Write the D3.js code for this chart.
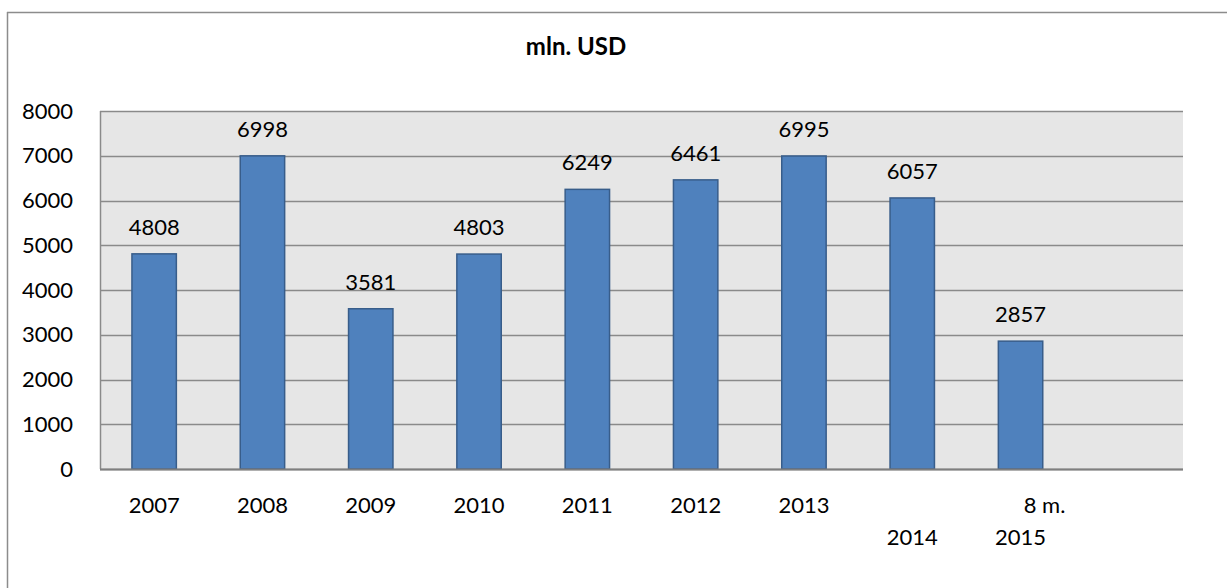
<!DOCTYPE html>
<html>
<head>
<meta charset="utf-8">
<script src="https://cdn.jsdelivr.net/npm/d3@7"></script>
<style>
  body { margin: 0; background: #fff; }
  svg { display: block; font-family: Lato, "Open Sans", sans-serif; }
</style>
</head>
<body>
<div id="chart-area"></div>
<script>
// data
var years = ['2007', '2008', '2009', '2010', '2011', '2012', '2013', '2014', '2015', ''];
var values = [4808, 6998, 3581, 4803, 6249, 6461, 6995, 6057, 2857];
// category labels: [first line, second line]
var labelLines = [['2007'], ['2008'], ['2009'], ['2010'], ['2011'], ['2012'], ['2013'], ['', '2014'], ['8 m.', '2015'], ['']];
var yTicks = [0, 1000, 2000, 3000, 4000, 5000, 6000, 7000, 8000];

var W = 1227, H = 588;
var margin = { top: 111, right: 44, bottom: 119, left: 100 };
var width = W - margin.left - margin.right;
var height = H - margin.top - margin.bottom;

var svg = d3.select('#chart-area')
    .append('svg')
        .attr('width', W)
        .attr('height', H);

// outer frame (top + left only visible)
svg.append('line').attr('x1', 7).attr('x2', W).attr('y1', 12.5).attr('y2', 12.5)
    .attr('stroke', '#8c8c8c').attr('stroke-width', 1.5);
svg.append('line').attr('x1', 7.5).attr('x2', 7.5).attr('y1', 12).attr('y2', H)
    .attr('stroke', '#8c8c8c').attr('stroke-width', 1.5);

// title
svg.append('text')
    .attr('x', 576)
    .attr('y', 55)
    .attr('text-anchor', 'middle')
    .attr('font-size', '24px')
    .attr('font-weight', 'bold')
    .text('mln. USD');

var g = svg.append('g')
    .attr('transform', 'translate(' + margin.left + ',' + margin.top + ')');

var x = d3.scaleBand()
    .domain(years.map(function (d, i) { return i; }))
    .range([0, width])
    .padding(0);

var y = d3.scaleLinear()
    .domain([0, 8000])
    .range([height, 0]);

// plot background
g.append('rect')
    .attr('width', width)
    .attr('height', height)
    .attr('fill', '#e6e6e6');

// gridlines
g.selectAll('.grid').data(yTicks)
    .enter().append('line')
    .attr('class', 'grid')
    .attr('x1', 0).attr('x2', width)
    .attr('y1', function (d) { return Math.round(y(d)) + 0.5; })
    .attr('y2', function (d) { return Math.round(y(d)) + 0.5; })
    .attr('stroke', '#8a8a8a')
    .attr('stroke-width', 1.5);

// left axis line
g.append('line').attr('x1', 0.5).attr('x2', 0.5).attr('y1', 0).attr('y2', height)
    .attr('stroke', '#8a8a8a').attr('stroke-width', 1.5);

// Y axis
var yAxisCall = d3.axisLeft(y).tickValues(yTicks).tickSize(0).tickPadding(27)
    .tickFormat(d3.format('d'));
var yAxis = g.append('g').attr('class', 'left axis').call(yAxisCall);
yAxis.select('.domain').remove();
yAxis.selectAll('text')
    .attr('font-family', 'Lato, "Open Sans", sans-serif')
    .attr('font-size', '22px')
    .attr('fill', '#000');

// bars
var barFrac = 0.41;
g.selectAll('.bar').data(values)
    .enter().append('rect')
    .attr('class', 'bar')
    .attr('x', function (d, i) { return x(i) + x.bandwidth() * (1 - barFrac) / 2; })
    .attr('y', function (d) { return y(d); })
    .attr('width', x.bandwidth() * barFrac)
    .attr('height', function (d) { return height - y(d); })
    .attr('fill', '#4f81bd')
    .attr('stroke', '#385d8a')
    .attr('stroke-width', 1.5);

// value labels
g.selectAll('.val').data(values)
    .enter().append('text')
    .attr('class', 'val')
    .attr('x', function (d, i) { return x(i) + x.bandwidth() / 2; })
    .attr('y', function (d) { return y(d) - 19; })
    .attr('text-anchor', 'middle')
    .attr('font-size', '22px')
    .text(function (d) { return d; });

// bottom axis line
g.append('line').attr('x1', 0).attr('x2', width).attr('y1', height + 0.5).attr('y2', height + 0.5)
    .attr('stroke', '#7f7f7f').attr('stroke-width', 2);

// category labels
var cats = g.selectAll('.cat').data(labelLines)
    .enter().append('text')
    .attr('class', 'cat')
    .attr('text-anchor', 'middle')
    .attr('font-size', '22px')
    .attr('transform', function (d, i) {
        return 'translate(' + (x(i) + x.bandwidth() / 2) + ',' + (height + 44) + ')';
    });
cats.selectAll('tspan').data(function (d) { return d; })
    .enter().append('tspan')
    .attr('x', function (d) { return (d === '8 m.') ? 24 : 0; })
    .attr('y', function (d, j) { return j * 32; })
    .text(function (d) { return d; });
</script>
</body>
</html>
